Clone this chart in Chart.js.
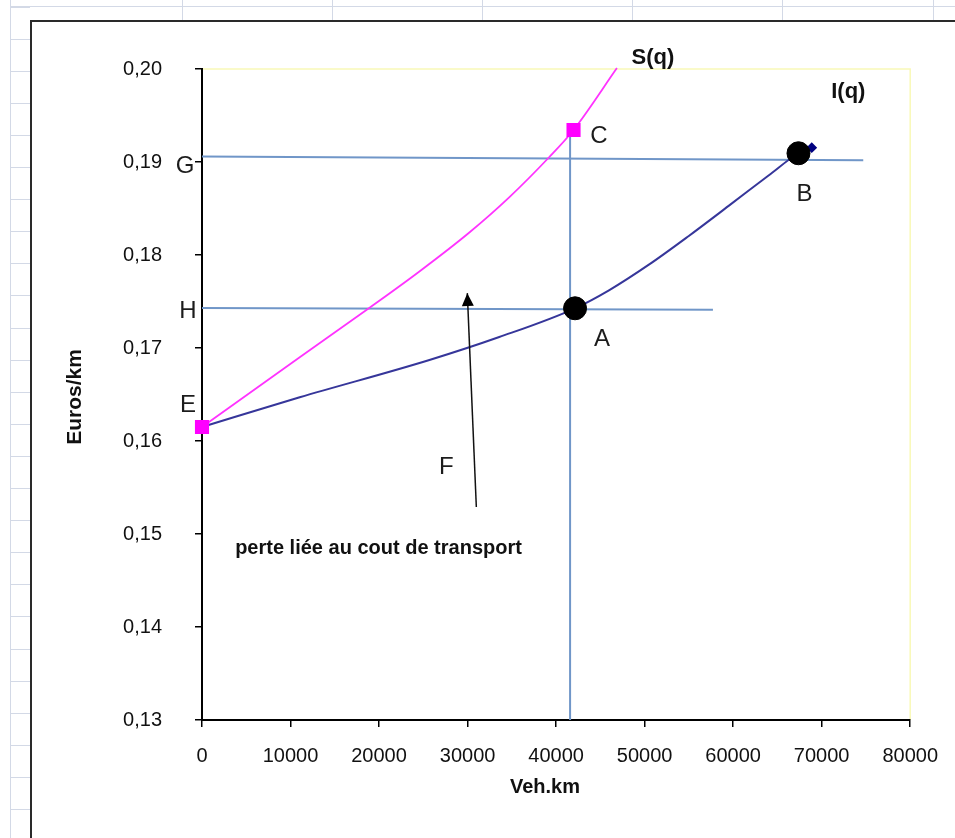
<!DOCTYPE html>
<html><head><meta charset="utf-8">
<script src="https://cdn.jsdelivr.net/npm/chart.js@4"></script>
<style>html,body{margin:0;padding:0;background:#fff;overflow:hidden}canvas{display:block}</style>
</head><body>
<canvas id="c" width="955" height="838" style="width:955px;height:838px"></canvas>
<script>
// ---- data ----
const sX = [0, 11040, 18930, 24560, 30200, 34700, 39210, 41970, 46870];
const sY = [0.1615, 0.1690, 0.17433, 0.17823, 0.18242, 0.18620, 0.19051, 0.19344, 0.2001];
const iX = [0, 11040, 25690, 33580, 42140, 45970, 50480, 54990, 59490, 64000, 67380, 68880];
const iY = [0.1615, 0.16470, 0.16871, 0.17118, 0.17427, 0.17620, 0.17896, 0.18205, 0.18528, 0.18855, 0.19094, 0.19154];
const keyX = [42140, 67380];            // A, B
const keyY = [0.17427, 0.19094];
const gX = [0, 74700], gY = [0.1906, 0.1902];
const hX = [0, 57720], hY = [0.1743, 0.1741];
const vX = [41580, 41580], vY = [0.1934, 0.13];
const arrowX = [30990, 29970], arrowY = [0.1529, 0.1759];
const labelText = ['S(q)', 'I(q)', 'C', 'G', 'B', 'H', 'A', 'E', 'F', 'perte liée au cout de transport'];
const labelX = [50930, 73010, 44850, -1915, 68060, -1577, 45180, -1577, 27610, 19940];
const labelY = [0.20118, 0.19753, 0.19280, 0.18957, 0.18656, 0.17398, 0.17097, 0.16387, 0.15720, 0.14849];
const xTickValues = [0, 10000, 20000, 30000, 40000, 50000, 60000, 70000, 80000];
const yTickValues = [0.13, 0.14, 0.15, 0.16, 0.17, 0.18, 0.19, 0.20];
const xTitle = 'Veh.km';
const yTitle = 'Euros/km';

const pts = (xs, ys) => xs.map((x, i) => ({x: x, y: ys[i]}));
const FONT = "'Liberation Sans', Arial, sans-serif";

const sheetPlugin = {
  id: 'sheet',
  beforeDraw(chart) {
    const ctx = chart.ctx;
    ctx.save();
    ctx.fillStyle = '#fff';
    ctx.fillRect(0, 0, chart.width, chart.height);
    ctx.strokeStyle = '#d3d9e6';
    ctx.lineWidth = 1;
    ctx.beginPath();
    ctx.moveTo(10, 6.5); ctx.lineTo(chart.width, 6.5);
    ctx.moveTo(10.5, 0); ctx.lineTo(10.5, chart.height);
    [182, 332, 482, 632, 782, 933].forEach(x => { ctx.moveTo(x + 0.5, 0); ctx.lineTo(x + 0.5, 20); });
    for (let y = 6.5; y < chart.height; y += 32.1) { ctx.moveTo(10, Math.round(y) + 0.5); ctx.lineTo(30, Math.round(y) + 0.5); }
    ctx.stroke();
    ctx.strokeStyle = '#2a2a2a';
    ctx.lineWidth = 2;
    ctx.beginPath();
    ctx.moveTo(31, chart.height); ctx.lineTo(31, 21); ctx.lineTo(chart.width, 21);
    ctx.stroke();
    const a = chart.chartArea;
    ctx.strokeStyle = '#f9f9b8';
    ctx.lineWidth = 1.5;
    ctx.beginPath();
    ctx.moveTo(a.left, a.top); ctx.lineTo(a.right, a.top); ctx.lineTo(a.right, a.bottom);
    ctx.stroke();
    ctx.restore();
  }
};

const annoPlugin = {
  id: 'anno',
  afterDatasetsDraw(chart) {
    const ctx = chart.ctx, xs = chart.scales.x, ys = chart.scales.y;
    ctx.save();
    const tx = xs.getPixelForValue(arrowX[1]), ty = ys.getPixelForValue(arrowY[1]);
    const fx = xs.getPixelForValue(arrowX[0]), fy = ys.getPixelForValue(arrowY[0]);
    const ang = Math.atan2(ty - fy, tx - fx);
    const L = 13, W = 6;
    ctx.fillStyle = '#000';
    ctx.beginPath();
    ctx.moveTo(tx, ty);
    ctx.lineTo(tx - L * Math.cos(ang) + W * Math.sin(ang), ty - L * Math.sin(ang) - W * Math.cos(ang));
    ctx.lineTo(tx - L * Math.cos(ang) - W * Math.sin(ang), ty - L * Math.sin(ang) + W * Math.cos(ang));
    ctx.closePath();
    ctx.fill();
    ctx.textAlign = 'center';
    ctx.textBaseline = 'middle';
    labelText.forEach((t, i) => {
      if (i < 2) ctx.font = 'bold 22px ' + FONT;
      else if (i === 9) ctx.font = 'bold 20px ' + FONT;
      else ctx.font = '24px ' + FONT;
      ctx.fillStyle = i < 2 || i === 9 ? '#111' : '#1c1c1c';
      ctx.fillText(t, xs.getPixelForValue(labelX[i]), ys.getPixelForValue(labelY[i]));
    });
    ctx.font = 'bold 20px ' + FONT;
    ctx.fillStyle = '#111';
    ctx.fillText(xTitle, 545, 787);
    ctx.font = 'bold 21px ' + FONT;
    ctx.translate(75, 397);
    ctx.rotate(-Math.PI / 2);
    ctx.fillText(yTitle, 0, 0);
    ctx.restore();
  }
};

new Chart(document.getElementById('c'), {
  type: 'line',
  data: {
    datasets: [
      { label: 'points', data: pts(keyX, keyY), showLine: false, pointRadius: 11.5,
        pointBackgroundColor: '#000', pointBorderColor: '#000', pointStyle: 'circle', clip: false },
      { label: 'arrow', data: pts(arrowX, arrowY), borderColor: '#111', borderWidth: 1.5,
        pointRadius: 0, tension: 0, clip: false },
      { label: 'S(q)', data: pts(sX, sY), borderColor: '#ff33ff', borderWidth: 1.8,
        cubicInterpolationMode: 'monotone', pointStyle: 'rect',
        pointRadius: sX.map((_, i) => (i === 0 || i === 7) ? 8.7 : 0),
        pointBackgroundColor: '#ff00ff', pointBorderColor: '#ff00ff', clip: false },
      { label: 'I(q)', data: pts(iX, iY), borderColor: '#36369a', borderWidth: 2,
        cubicInterpolationMode: 'monotone', pointStyle: 'rectRot',
        pointRadius: iX.map((_, i) => i === iX.length - 1 ? 4 : 0),
        pointBackgroundColor: '#000080', pointBorderColor: '#000080', clip: false },
      { label: 'G', data: pts(gX, gY), borderColor: '#7096c8', borderWidth: 2, pointRadius: 0, tension: 0, clip: false },
      { label: 'H', data: pts(hX, hY), borderColor: '#7096c8', borderWidth: 2, pointRadius: 0, tension: 0, clip: false },
      { label: 'V', data: pts(vX, vY), borderColor: '#7096c8', borderWidth: 2, pointRadius: 0, tension: 0, clip: false }
    ]
  },
  options: {
    responsive: false,
    animation: false,
    events: [],
    layout: { padding: { left: 31, top: 69, right: 43, bottom: 0 } },
    plugins: { legend: { display: false }, tooltip: { enabled: false }, title: { display: false } },
    scales: {
      x: {
        type: 'linear', min: 0, max: 80000,
        afterFit(s) { s.height = 118; },
        afterBuildTicks(s) { s.ticks = xTickValues.map(v => ({value: v})); },
        ticks: { callback: v => String(v), padding: 17, color: '#111', font: { family: FONT, size: 20 }, maxRotation: 0, autoSkip: false },
        grid: { drawOnChartArea: false, drawTicks: true, tickLength: 7, color: '#000', lineWidth: 1.5 },
        border: { color: '#000', width: 2 }
      },
      y: {
        type: 'linear', min: 0.13, max: 0.20,
        afterFit(s) { s.width = 171; },
        afterBuildTicks(s) { s.ticks = yTickValues.map(v => ({value: v})); },
        ticks: { callback: v => v.toFixed(2).replace('.', ','), padding: 33, color: '#111', font: { family: FONT, size: 20 }, autoSkip: false },
        grid: { drawOnChartArea: false, drawTicks: true, tickLength: 7, color: '#000', lineWidth: 1.5 },
        border: { color: '#000', width: 2 }
      }
    }
  },
  plugins: [sheetPlugin, annoPlugin]
});
</script>
</body></html>
